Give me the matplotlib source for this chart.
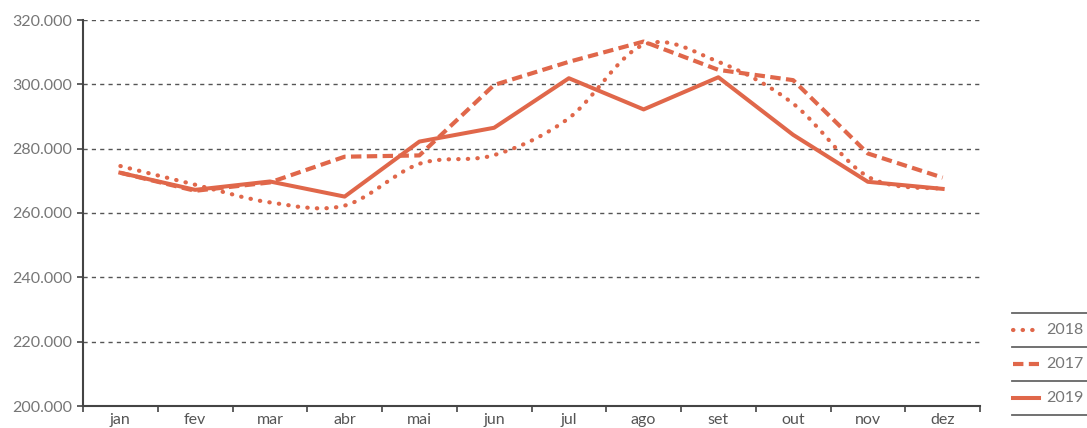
import matplotlib
matplotlib.use("Agg")
import matplotlib.pyplot as plt
from matplotlib.path import Path
from matplotlib.patches import PathPatch
from matplotlib.lines import Line2D
from matplotlib.ticker import FuncFormatter, FixedLocator

plt.rcParams['font.family'] = ['Lato', 'DejaVu Sans']

months = ["jan", "fev", "mar", "abr", "mai", "jun", "jul", "ago", "set", "out", "nov", "dez"]
v2018 = [274600, 268800, 263300, 262300, 275300, 278000, 289500, 312300, 307000, 294000, 271300, 267500]
v2017 = [272500, 266900, 269500, 277500, 277900, 299800, 307000, 313300, 304500, 301300, 278500, 271000]
v2019 = [272500, 267200, 269800, 265100, 282200, 286500, 301900, 292200, 302200, 284300, 269700, 267500]

color = "#E0674A"
grey = "#767676"

fig = plt.figure(figsize=(10.87, 4.28), dpi=100)
ax = fig.add_axes([83/1087, 1 - 406/428, (980 - 83)/1087, (406 - 20)/428])

x = list(range(len(months)))

dot_ls = (0, (0.1, 2.2))
dash_ls = (0, (2.5, 1.3))

# smoothed 2018 (cubic Bezier through the data points, Catmull-Rom style)
verts = [(x[0], v2018[0])]
codes = [Path.MOVETO]
n = len(x)
for i in range(n - 1):
    p0 = (x[max(i - 1, 0)], v2018[max(i - 1, 0)])
    p1 = (x[i], v2018[i])
    p2 = (x[i + 1], v2018[i + 1])
    p3 = (x[min(i + 2, n - 1)], v2018[min(i + 2, n - 1)])
    c1 = (p1[0] + (p2[0] - p0[0]) / 6, p1[1] + (p2[1] - p0[1]) / 6)
    c2 = (p2[0] - (p3[0] - p1[0]) / 6, p2[1] - (p3[1] - p1[1]) / 6)
    verts += [c1, c2, p2]
    codes += [Path.CURVE4, Path.CURVE4, Path.CURVE4]
patch = PathPatch(Path(verts, codes), facecolor="none", edgecolor=color,
                  linewidth=3.0, linestyle=dot_ls, capstyle="round", zorder=3)
ax.add_patch(patch)

ax.plot(x, v2017, color=color, linewidth=3.0, linestyle=dash_ls, zorder=3)
ax.plot(x, v2019, color=color, linewidth=2.9, linestyle="-", zorder=4)

ax.set_xlim(-0.5, 11.5)
ax.set_ylim(200000, 320000)
ax.set_yticks(range(200000, 320001, 20000))
ax.yaxis.set_major_formatter(FuncFormatter(lambda v, p: f"{int(v):,}".replace(",", ".")))
ax.grid(axis="y", color="#555555", linestyle=(0, (3, 3)), linewidth=1.0)
ax.set_axisbelow(True)

ax.set_xticks(x)
ax.set_xticklabels(months)
ax.xaxis.set_minor_locator(FixedLocator([i - 0.5 for i in range(13)]))
ax.tick_params(axis="x", which="major", length=0, pad=5, labelsize=11.5, labelcolor="#555555")
ax.tick_params(axis="x", which="minor", length=4, width=1.2, color="#444444", direction="out")
ax.tick_params(axis="y", length=4, width=1.2, color="#444444", pad=4, labelsize=11.5, labelcolor=grey)

for s in ["top", "right"]:
    ax.spines[s].set_visible(False)
for s in ["left", "bottom"]:
    ax.spines[s].set_color("#444444")
    ax.spines[s].set_linewidth(1.5)

# legend drawn in figure coordinates
def fx(px):
    return px / 1087
def fy(py):
    return 1 - py / 428

for py in [313, 347, 381, 415]:
    fig.add_artist(Line2D([fx(1012), fx(1087)], [fy(py), fy(py)], color="#666666", linewidth=1.3))

entries = [("2018", dot_ls, 3.0, 330, "round"),
           ("2017", dash_ls, 3.0, 364, "butt"),
           ("2019", "-", 2.9, 398, "butt")]
for label, ls, lw, py, cap in entries:
    ln = Line2D([fx(1013), fx(1039)], [fy(py), fy(py)], color=color, linewidth=lw, linestyle=ls)
    ln.set_dash_capstyle(cap)
    fig.add_artist(ln)
    fig.text(fx(1046), fy(py), label, ha="left", va="center", fontsize=11.5, color=grey)

fig.savefig("out.png", dpi=100)
